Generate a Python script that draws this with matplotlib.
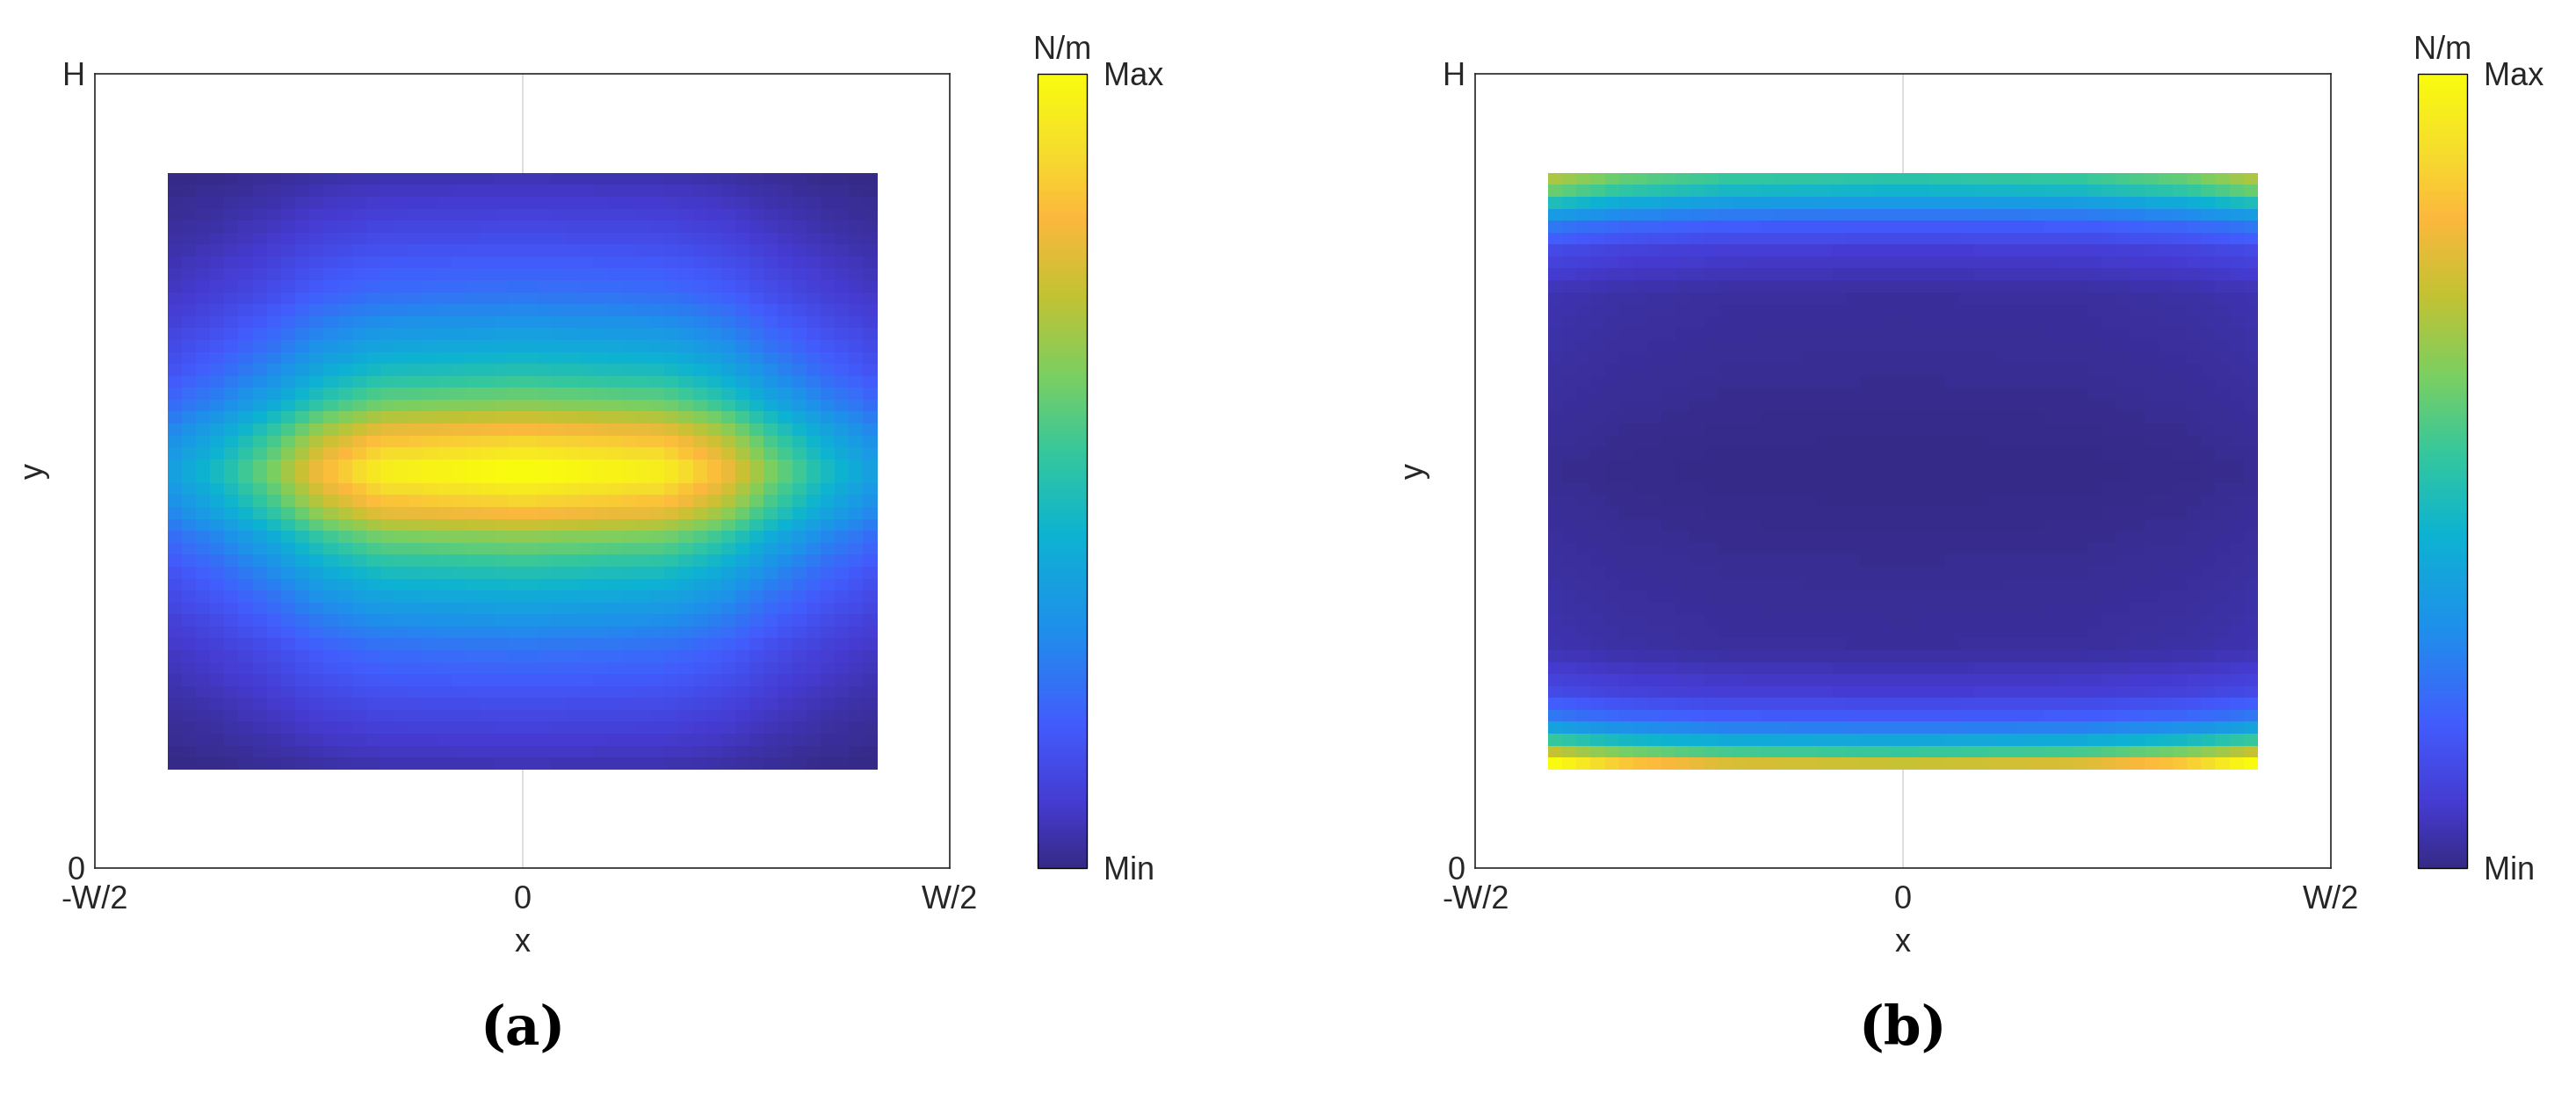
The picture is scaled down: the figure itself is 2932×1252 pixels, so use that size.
import numpy as np
import matplotlib
matplotlib.use("Agg")
import matplotlib.pyplot as plt
from matplotlib.colors import LinearSegmentedColormap

plt.rcParams['font.family'] = ['Liberation Sans', 'DejaVu Sans']

# parula-like colormap anchors
parula_pos = [0.0, 0.08, 0.18, 0.30, 0.42, 0.52, 0.62, 0.72, 0.82, 0.90, 1.0]
parula_rgb = [(0.208, 0.166, 0.529), (0.270, 0.230, 0.820), (0.260, 0.360, 0.990),
              (0.120, 0.560, 0.920), (0.050, 0.700, 0.820), (0.200, 0.780, 0.620),
              (0.480, 0.810, 0.380), (0.760, 0.760, 0.200), (0.990, 0.720, 0.240),
              (0.960, 0.860, 0.180), (0.976, 0.984, 0.055)]
cmap = LinearSegmentedColormap.from_list('parula', list(zip(parula_pos, parula_rgb)))

NX, NY = 50, 50
x_extent = [-0.415, 0.415]
y_extent = [0.124, 0.875]

# panel (a): profiles along x (centre row) and along y (centre column)
a_col_pos = [0.0, 0.08, 0.15, 0.22, 0.30, 0.5, 0.70, 0.78, 0.85, 0.92, 1.0]
a_col_val = [0.36, 0.48, 0.63, 0.82, 0.95, 1.0, 0.95, 0.82, 0.63, 0.48, 0.36]
a_row_pos = [0.0, 0.1, 0.2, 0.28, 0.34, 0.39, 0.44, 0.5, 0.56, 0.61, 0.66, 0.72, 0.8, 0.9, 1.0]
a_row_val = [0.07, 0.15, 0.25, 0.38, 0.50, 0.64, 0.84, 1.0, 0.84, 0.64, 0.50, 0.38, 0.25, 0.15, 0.07]

# panel (b): profile along y (bottom -> top) and edge factor along x
b_row_pos = [0.0, 0.02, 0.04, 0.06, 0.09, 0.13, 0.20, 0.5, 0.80, 0.87, 0.91, 0.94, 0.96, 0.98, 1.0]
b_row_val = [0.74, 0.52, 0.40, 0.28, 0.17, 0.10, 0.05, 0.03, 0.05, 0.10, 0.17, 0.26, 0.35, 0.42, 0.46]
b_col_pos = [0.0, 0.1, 0.25, 0.5, 0.75, 0.9, 1.0]
b_col_val = [1.35, 1.15, 1.02, 0.98, 1.02, 1.15, 1.35]

u = (np.arange(NX) + 0.5) / NX
v = (np.arange(NY) + 0.5) / NY
Za = np.outer(np.interp(v, a_row_pos, a_row_val), np.interp(u, a_col_pos, a_col_val))
Zb = np.outer(np.interp(v, b_row_pos, b_row_val), np.interp(u, b_col_pos, b_col_val))

fig = plt.figure(figsize=(29.32, 12.52), dpi=100)
panels = [(0.0368, Za, '(a)'), (0.5727, Zb, '(b)')]
FS = 26
for left, Z, lab in panels:
    ax = fig.add_axes([left, 0.211, 0.332, 0.722])
    xe = np.linspace(x_extent[0], x_extent[1], NX + 1)
    ye = np.linspace(y_extent[0], y_extent[1], NY + 1)
    im = ax.pcolormesh(xe, ye, Z, cmap=cmap, vmin=Z.min(), vmax=Z.max(), shading='flat', zorder=2)
    ax.set_xlim(-0.5, 0.5)
    ax.set_ylim(0, 1)
    ax.axvline(0, color='#d8d8d8', lw=1.2, zorder=1)
    ax.set_xticks([-0.5, 0, 0.5])
    ax.set_xticklabels(['-W/2', '0', 'W/2'])
    ax.set_yticks([0, 1])
    ax.set_yticklabels(['0', 'H'])
    ax.tick_params(axis='x', length=0, labelsize=FS, colors='#262626', pad=14)
    ax.tick_params(axis='y', length=0, labelsize=FS, colors='#262626', pad=8)
    for s in ax.spines.values():
        s.set_color('#262626'); s.set_linewidth(1.2)
    ax.set_xlabel('x', fontsize=FS, color='#262626', labelpad=10)
    ax.set_ylabel('y', fontsize=FS, color='#262626', labelpad=10)
    ax.text(0.5, -0.17, lab, transform=ax.transAxes, ha='center', va='top',
            fontsize=44, family='DejaVu Serif', fontweight='bold')
    cax = fig.add_axes([left + 0.366, 0.211, 0.019, 0.722])
    cb = fig.colorbar(im, cax=cax)
    cb.set_ticks([Z.min(), Z.max()])
    cb.set_ticklabels(['Min', 'Max'])
    cb.ax.tick_params(length=0, labelsize=FS, colors='#262626', pad=14)
    cb.outline.set_linewidth(1.0)
    cax.text(0.5, 1.01, 'N/m', transform=cax.transAxes, ha='center', va='bottom',
             fontsize=FS, color='#262626')

fig.savefig('out.png', dpi=100)
